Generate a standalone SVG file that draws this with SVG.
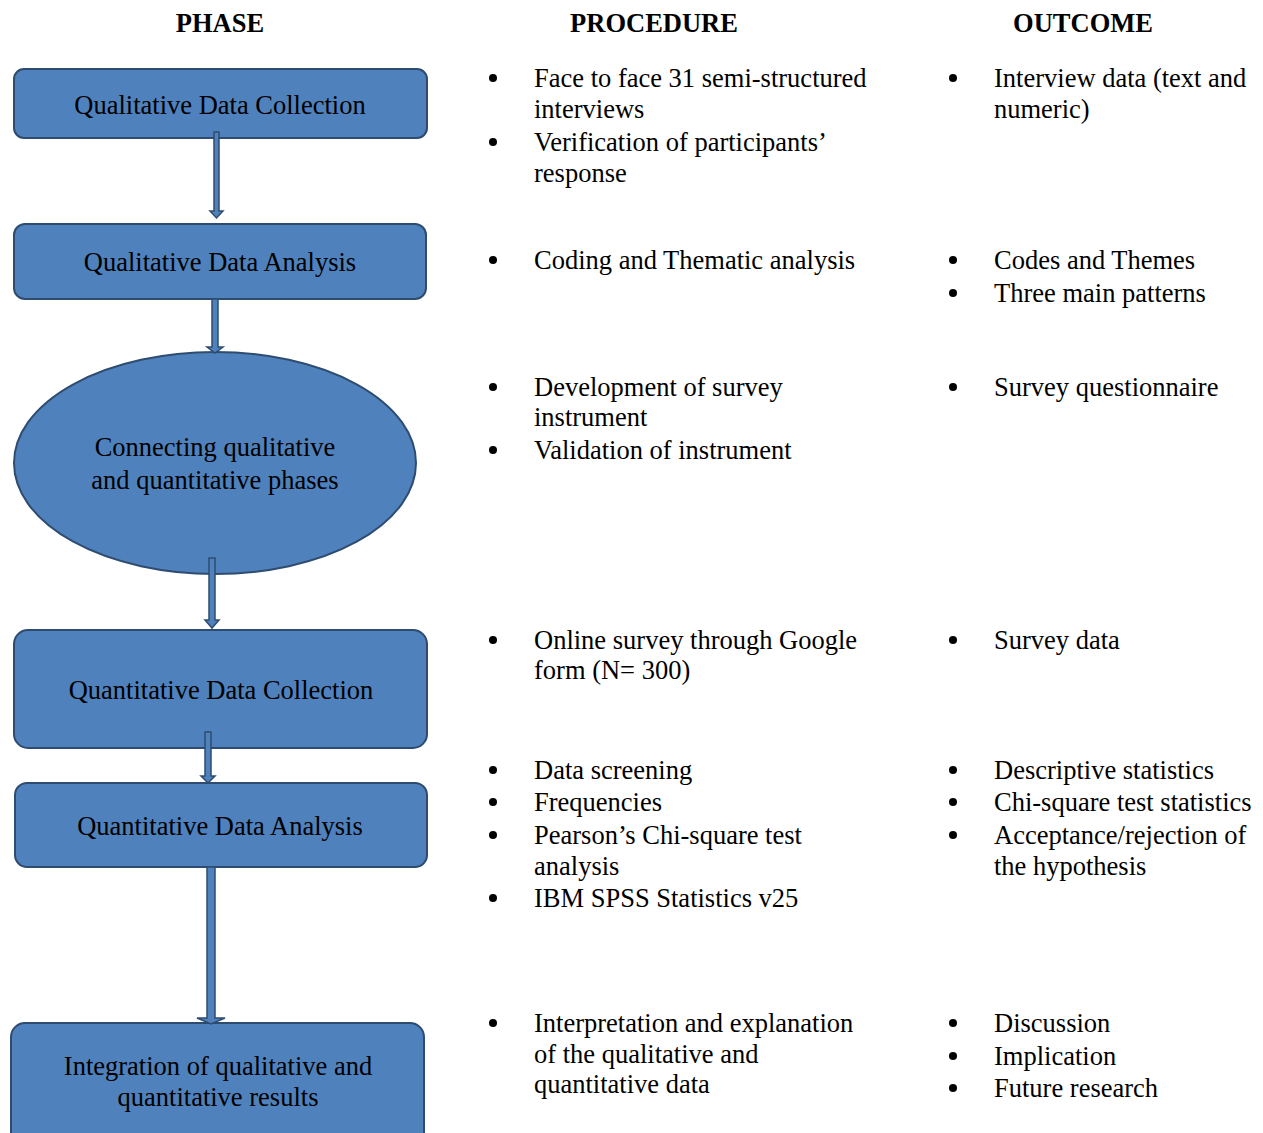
<svg xmlns="http://www.w3.org/2000/svg" width="1263" height="1133" viewBox="0 0 1263 1133">
<style>
.n{fill:#4F81BD;stroke:#2E4C70;stroke-width:2}
.t{font-family:"Liberation Serif","Times New Roman",serif;font-size:26.5px;fill:#000}
.c{text-anchor:middle}
.h{font-family:"Liberation Serif","Times New Roman",serif;font-size:26.5px;font-weight:bold;text-anchor:middle}
.a{fill:#4F81BD;stroke:#2E4C70;stroke-width:1.5}
.b{fill:#000}
</style>
<rect width="1263" height="1133" fill="#fff"/>
<g id="headers">
<text class="h" x="220" y="32">PHASE</text>
<text class="h" x="654" y="32">PROCEDURE</text>
<text class="h" x="1083" y="32">OUTCOME</text>
</g>
<g id="node1">
<rect class="n" x="14" y="69" width="413" height="69" rx="10"/>
<text class="t c" x="220" y="114">Qualitative Data Collection</text>
</g>
<g id="node2">
<rect class="n" x="14" y="224" width="412" height="75" rx="11"/>
<text class="t c" x="220" y="271">Qualitative Data Analysis</text>
</g>
<g id="node3">
<ellipse class="n" cx="215" cy="463" rx="201" ry="111"/>
<text class="t c" x="215" y="456">Connecting qualitative</text>
<text class="t c" x="215" y="489">and quantitative phases</text>
</g>
<g id="node4">
<rect class="n" x="14" y="630" width="413" height="118" rx="14"/>
<text class="t c" x="221" y="699">Quantitative Data Collection</text>
</g>
<g id="node5">
<rect class="n" x="15" y="783" width="412" height="84" rx="12"/>
<text class="t c" x="220" y="835">Quantitative Data Analysis</text>
</g>
<g id="node6">
<rect class="n" x="11" y="1023" width="413" height="130" rx="14"/>
<text class="t c" x="218" y="1075">Integration of qualitative and</text>
<text class="t c" x="218" y="1106">quantitative results</text>
</g>
<g id="connectors">
<path class="a" d="M214 132 H219 V211 H223 L216.5 218 L210 211 H214 Z"/>
<path class="a" d="M212 299 H218 V347 H223 L215 353 L207 347 H212 Z"/>
<path class="a" d="M209 558 H215 V620 H219 L212 628 L205 620 H209 Z"/>
<path class="a" d="M205 732 H211 V776 H215 L208 783 L201 776 H205 Z"/>
<path class="a" d="M207 867 H215 V1018 H225 L211 1024 L197 1018 H207 Z"/>
</g>
<g id="procedure">
<circle class="b" cx="493" cy="78" r="4"/><circle class="b" cx="493" cy="142" r="4"/>
<text class="t" x="534" y="87">Face to face 31 semi-structured</text>
<text class="t" x="534" y="118">interviews</text>
<text class="t" x="534" y="151">Verification of participants’</text>
<text class="t" x="534" y="182">response</text>
<circle class="b" cx="493" cy="260" r="4"/>
<text class="t" x="534" y="269">Coding and Thematic analysis</text>
<circle class="b" cx="493" cy="387" r="4"/><circle class="b" cx="493" cy="450" r="4"/>
<text class="t" x="534" y="396">Development of survey</text>
<text class="t" x="534" y="426">instrument</text>
<text class="t" x="534" y="459">Validation of instrument</text>
<circle class="b" cx="493" cy="640" r="4"/>
<text class="t" x="534" y="649">Online survey through Google</text>
<text class="t" x="534" y="679">form (N= 300)</text>
<circle class="b" cx="493" cy="770" r="4"/><circle class="b" cx="493" cy="802" r="4"/><circle class="b" cx="493" cy="835" r="4"/><circle class="b" cx="493" cy="898" r="4"/>
<text class="t" x="534" y="779">Data screening</text>
<text class="t" x="534" y="811">Frequencies</text>
<text class="t" x="534" y="844">Pearson’s Chi-square test</text>
<text class="t" x="534" y="875">analysis</text>
<text class="t" x="534" y="907">IBM SPSS Statistics v25</text>
<circle class="b" cx="493" cy="1023" r="4"/>
<text class="t" x="534" y="1032">Interpretation and explanation</text>
<text class="t" x="534" y="1063">of the qualitative and</text>
<text class="t" x="534" y="1093">quantitative data</text>
</g>
<g id="outcome">
<circle class="b" cx="953" cy="78" r="4"/>
<text class="t" x="994" y="87">Interview data (text and</text>
<text class="t" x="994" y="118">numeric)</text>
<circle class="b" cx="953" cy="260" r="4"/><circle class="b" cx="953" cy="293" r="4"/>
<text class="t" x="994" y="269">Codes and Themes</text>
<text class="t" x="994" y="302">Three main patterns</text>
<circle class="b" cx="953" cy="387" r="4"/>
<text class="t" x="994" y="396">Survey questionnaire</text>
<circle class="b" cx="953" cy="640" r="4"/>
<text class="t" x="994" y="649">Survey data</text>
<circle class="b" cx="953" cy="770" r="4"/><circle class="b" cx="953" cy="802" r="4"/><circle class="b" cx="953" cy="835" r="4"/>
<text class="t" x="994" y="779">Descriptive statistics</text>
<text class="t" x="994" y="811">Chi-square test statistics</text>
<text class="t" x="994" y="844">Acceptance/rejection of</text>
<text class="t" x="994" y="875">the hypothesis</text>
<circle class="b" cx="953" cy="1023" r="4"/><circle class="b" cx="953" cy="1056" r="4"/><circle class="b" cx="953" cy="1088" r="4"/>
<text class="t" x="994" y="1032">Discussion</text>
<text class="t" x="994" y="1065">Implication</text>
<text class="t" x="994" y="1097">Future research</text>
</g>
</svg>
